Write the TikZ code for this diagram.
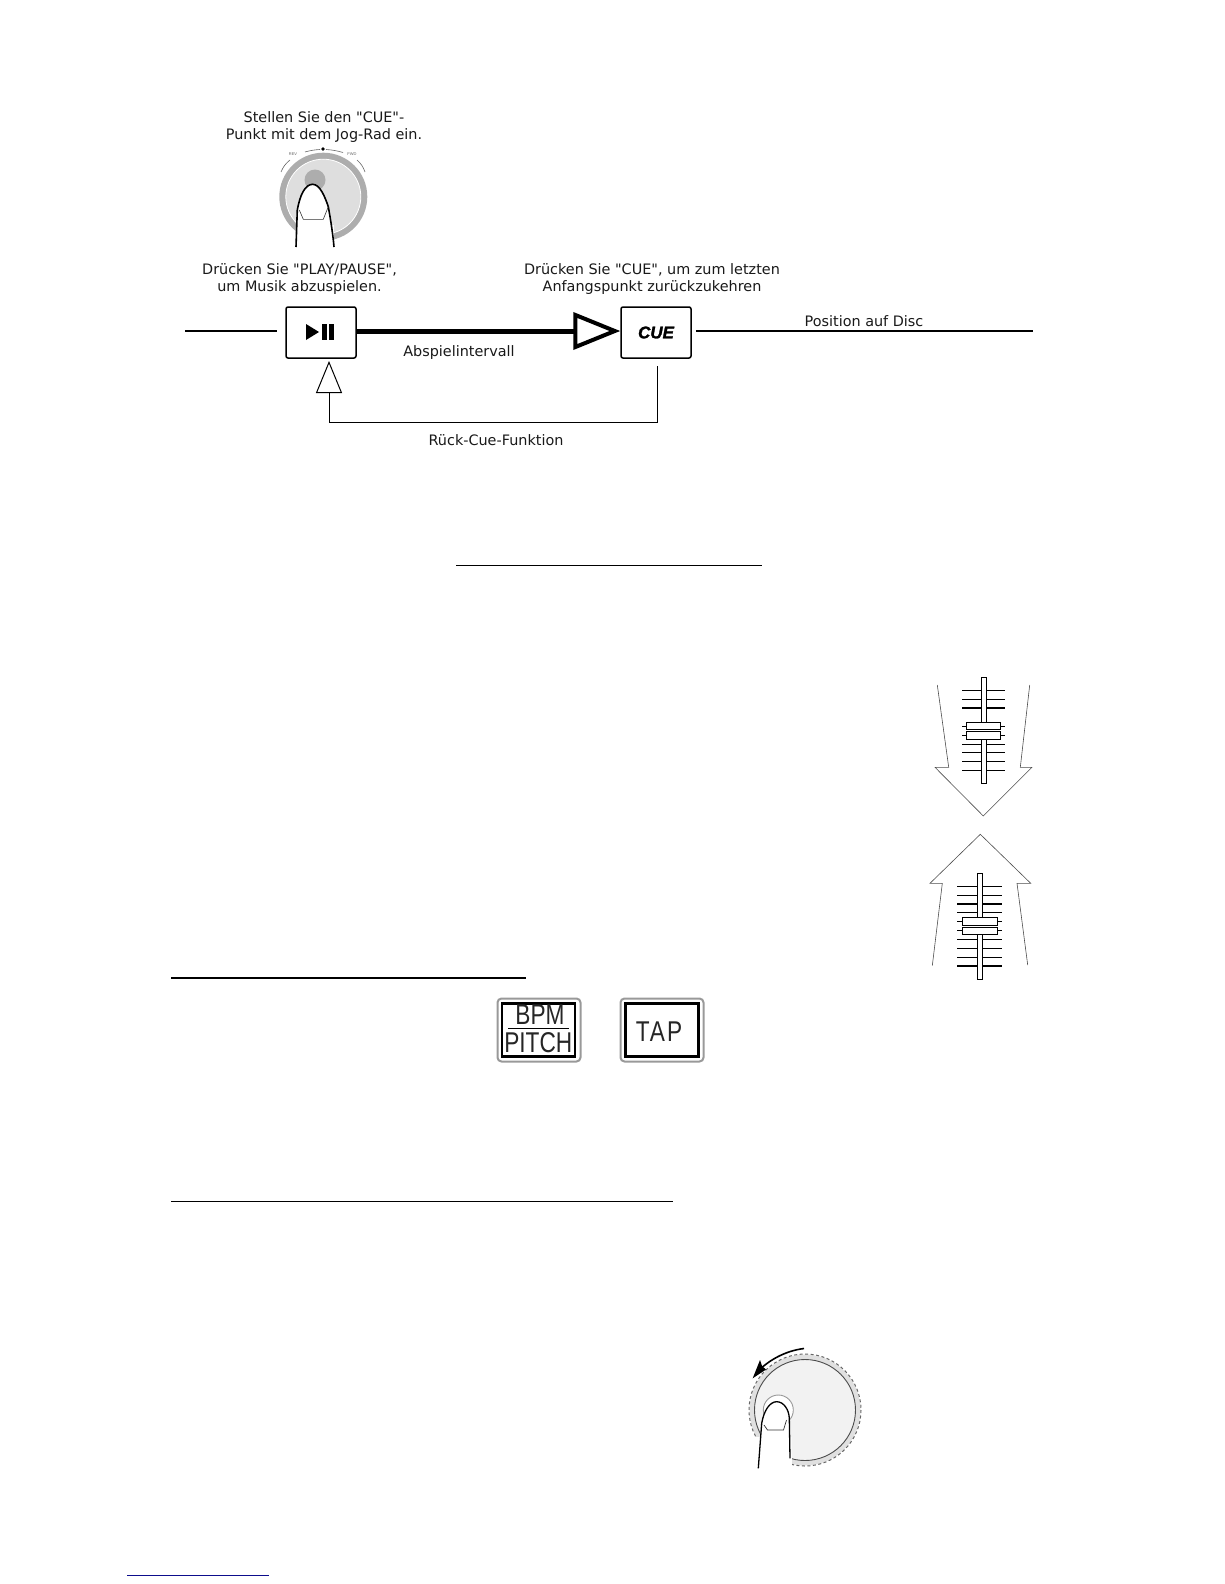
\documentclass[tikz,border=0pt]{standalone}
\usepackage{fontspec}
\setsansfont{Liberation Sans}
\newfontfamily\labelfont{DejaVu Sans}
\usetikzlibrary{arrows.meta}
\usetikzlibrary{positioning}
\definecolor{jogring}{gray}{0.68}
\definecolor{jogdisc}{gray}{0.87}
\definecolor{linkblue}{rgb}{0.05,0.05,0.55}
\newcommand{\capstretch}[1]{\scalebox{1.03}[1.3]{#1}}
\tikzset{label/.style = {font=\labelfont\fontsize{14.4}{17}\selectfont, align=center, inner sep=0pt, text=black!90},
         cuebutton/.style = {draw, line width=1.5pt, rounded corners=2pt, minimum width=70pt, minimum height=51pt},
         tapbutton/.style = {draw=black!40, fill=white, line width=2pt, rounded corners=4pt, minimum width=83pt, minimum height=63pt},
         tapface/.style = {draw, line width=2.6pt, minimum width=73pt, minimum height=53pt},
         capword/.style = {font=\sffamily\fontsize{22}{22}\selectfont, inner sep=0pt, text=black!85},
         fadertick/.style = {line width=0.7pt},
         faderthick/.style = {line width=1.8pt},
         faderpart/.style = {draw, fill=white, line width=0.7pt},
         bigarrow/.style = {draw=black!70, line width=0.6pt},
         heading/.style = {line width=0.8pt}}

\begin{document}
\begin{tikzpicture}[x=1pt,y=-1pt]
    \useasboundingbox (0,0) rectangle (1224,1584);

    % play and cue line
    \node[cuebutton] (play) at (321,332.5) {};
    \node[cuebutton] (cue) at (656,332.5) {\sffamily\bfseries\itshape\addfontfeature{FakeBold=1.5}\fontsize{17}{17}\selectfont CUE};
    \fill (306,324) -- (319,332) -- (306,340) -- cycle;
    \fill (322,324) rectangle (326.5,340);
    \fill (329,324) rectangle (334,340);

    \coordinate (discstart) at (185,331);
    \coordinate (discend) at (1033,331);
    \coordinate (playin) at (329,361);
    \coordinate (cueout) at (657,366);
    \coordinate (backcorner) at (329,422);

    \draw[line width=1.2pt] (discstart) -- ([xshift=-8pt]play.west |- discstart);
    \draw[line width=1.2pt] ([xshift=4pt]cue.east |- discend) -- (discend);
    \draw[line width=5pt, -{Triangle[open,length=47pt,width=37pt,line width=4pt]}]
        (play.east |- discend) -- (cue.west |- discend);
    \draw[line width=0.9pt, -{Triangle[open,fill=white,length=32pt,width=26pt,line width=1pt]}]
        (cueout) -- (cueout |- backcorner) -- (backcorner) -- (playin);

    \node[label] (stellen) at (324,127) {Stellen Sie den "CUE"-\\Punkt mit dem Jog-Rad ein.};
    \node[label] (abspielen) at (299.5,279) {Drücken Sie "PLAY/PAUSE",\\um Musik abzuspielen.};
    \node[label] (letzter) at (652,279) {Drücken Sie "CUE", um zum letzten\\Anfangspunkt zurückzukehren};
    \node[label] (position) at (864,321) {Position auf Disc};
    \node[label] (intervall) at (459,353) {Abspielintervall};
    \node[label] (rueck) at (496,440) {Rück-Cue-Funktion};

    % jog wheel, top
    \fill[jogring] (323.3,196.7) circle (44);
    \draw[white, line width=0.8pt, fill=jogdisc] (323.3,196.7) circle (37.5);
    \fill[jogring] (315,180) circle (10.5);
    \fill[white] (296,225) rectangle (334,250);
    \draw[line width=1.6pt, fill=white] (296,247) -- (297.3,210)
        .. controls (300,195) and (305,184.3) .. (312.7,184.3)
        .. controls (320,184.3) and (325,197) .. (328.3,206.7)
        .. controls (331,222) and (333,235) .. (334,247);
    \draw[line width=0.6pt, black!80] (299.3,210) -- (303.3,219.3) -- (323.3,219.3) -- (328.3,206.7);
    \fill (323,149) circle (1.8);
    \draw[black!60, line width=0.6pt] (305,152) to[bend left=6] (320,149.5);
    \draw[black!60, line width=0.6pt] (326,149.5) to[bend left=6] (343,152.5);
    \draw[black!60, line width=0.6pt] (281,172) to[bend left=14] (290,160);
    \draw[black!60, line width=0.6pt] (357,160) to[bend left=14] (365,172);
    \node[font=\sffamily\fontsize{4}{4}\selectfont, text=black!60, inner sep=0pt] (rev) at (293,154) {REV};
    \node[font=\sffamily\fontsize{4}{4}\selectfont, text=black!60, inner sep=0pt] (fwd) at (352,154) {FWD};

    % separators
    \draw[heading] (456,565.5) -- (762,565.5);
    \draw[heading, line width=1.6pt] (171,978) -- (526,978);
    \draw[heading] (171,1201) -- (673,1201);
    \draw[linkblue, line width=1pt] (127,1575) -- (269,1575);

    % faders
    \draw[bigarrow] (937.3,685) -- (948.7,767.3) -- (935,767.3) -- (983.3,816) -- (1032,767.3) -- (1020.3,767.3) -- (1029.7,685);
    \foreach \y in {690.3,699.3,726.3,735.3,744.3,752.7,761.3,770.3}
        \draw[fadertick] (962,\y) -- (1005,\y);
    \draw[faderthick] (962,708.3) -- (1005,708.3);
    \draw[faderpart] (981.3,677) rectangle (986.7,783);
    \draw[faderpart] (966,722.3) rectangle (1000.7,729.7);
    \fill[white] (966,729.7) rectangle (1000.7,731.3);
    \draw[faderpart] (966,731.3) rectangle (1000.7,739.7);

    \draw[bigarrow] (932.3,965.7) -- (942.3,883.3) -- (930,883.3) -- (980.3,834.3) -- (1030.7,883.3) -- (1017,883.3) -- (1027.7,965);
    \foreach \y in {886.3,895.3,912.7,921.7,930.3,939.3,948.3,957.3}
        \draw[fadertick] (957,\y) -- (1001.7,\y);
    \draw[faderthick] (957,903.7) -- (1001.7,903.7);
    \draw[faderthick] (957,965.7) -- (1001.7,965.7);
    \draw[faderpart] (977.3,873.3) rectangle (982.7,979.3);
    \draw[faderpart] (962.3,917.3) rectangle (997.7,925.7);
    \fill[white] (962.3,925.7) rectangle (997.7,927.3);
    \draw[faderpart] (962.3,927.3) rectangle (997.7,934.7);

    % buttons
    \node[tapbutton] (bpmkey) at (539,1030) {};
    \node[tapface] at (538.3,1030) {};
    \node[capword] (bpm) at (540,1015) {\capstretch{BPM}};
    \node[capword] (pitch) at (538.3,1043) {\capstretch{PITCH}};
    \draw[line width=1.4pt] (508,1028.3) -- (569,1028.3);
    \node[tapbutton] (tapkey) at (662,1030) {};
    \node[tapface] at (662,1030) {};
    \node[capword] (tap) at (659,1032) {\capstretch{\addfontfeature{LetterSpace=9}TAP}};

    % jog wheel, bottom
    \fill[black!12] (805,1410) circle (55.5);
    \fill[black!5] (805,1410) circle (50.5);
    \draw[black!70, line width=0.9pt] (805,1410) circle (50.5);
    \draw[black!60, line width=1pt, dash pattern=on 3pt off 2.5pt] (805,1410) circle (56);
    \draw[black!40, line width=0.9pt, fill=white] (778.3,1410) circle (15);
    \fill[white] (756,1437) -- (791.5,1437) -- (792,1472) -- (756,1472) -- cycle;
    \draw[line width=1.3pt, fill=white] (758.3,1468.3) -- (761.7,1423.3)
        .. controls (764,1410) and (770,1401.7) .. (776.7,1401.7)
        .. controls (784,1401.7) and (789,1410) .. (789.3,1418.3)
        -- (790,1458.3);
    \draw[line width=0.7pt, black!80] (764,1425) -- (767.5,1430) -- (783.5,1430) -- (786.5,1420);
    \draw[line width=1.6pt] (804,1348.5) .. controls (784,1351) and (768,1361) .. (757,1372);
    \fill (752.7,1378.3) -- (760,1360) -- (762,1366) -- (766,1369.5) -- cycle;
\end{tikzpicture}
\end{document}
